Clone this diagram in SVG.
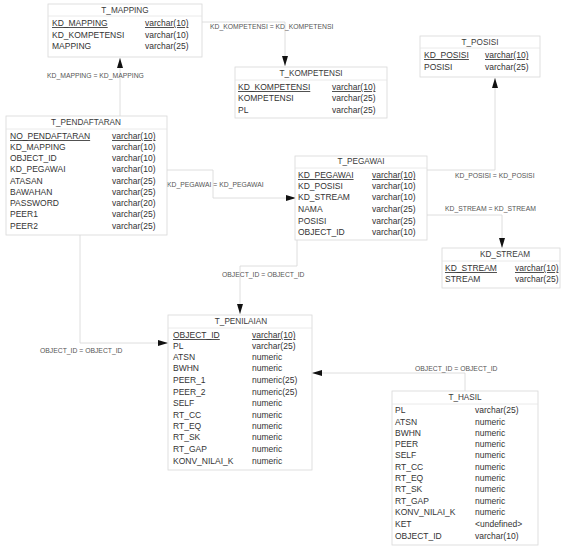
<svg xmlns="http://www.w3.org/2000/svg" width="566" height="547" viewBox="0 0 566 547">
<style>
text{font-family:"Liberation Sans",Arial,sans-serif;}
.box{fill:#fff;stroke:#d8d8d8;stroke-width:0.8;}
.sep{stroke:#e4e4e4;stroke-width:0.8;}
.t{font-size:8.2px;fill:#3a3a3a;text-anchor:middle;}
.f{font-size:8.5px;fill:#333;}
.pk{text-decoration:underline;}
.lbl{font-size:6.8px;fill:#555;}
.c{fill:none;stroke:#d6d6d6;stroke-width:0.8;}
</style>
<defs>
<marker id="ah" viewBox="0 0 10 6" refX="10" refY="3" markerWidth="10" markerHeight="6" markerUnits="userSpaceOnUse" orient="auto">
<path d="M0,0 L10,3 L0,6 Z" fill="#111"/>
</marker>
</defs>
<rect width="566" height="547" fill="#fff"/>

<g id="connectors">
<path class="c" d="M202,22 H285 V66" marker-end="url(#ah)"/>
<path class="c" d="M120,116 V58" marker-end="url(#ah)"/>
<path class="c" d="M167,170 H213 V198 H296" marker-end="url(#ah)"/>
<path class="c" d="M427,170 H495 V78" marker-end="url(#ah)"/>
<path class="c" d="M427,215 H502 V248" marker-end="url(#ah)"/>
<path class="c" d="M297,240 V266 H240 V314" marker-end="url(#ah)"/>
<path class="c" d="M80,235 V343 H168" marker-end="url(#ah)"/>
<path class="c" d="M465,391 V373 H312" marker-end="url(#ah)"/>
<text class="lbl" x="210" y="29">KD_KOMPETENSI = KD_KOMPETENSI</text>
<text class="lbl" x="47" y="78">KD_MAPPING = KD_MAPPING</text>
<text class="lbl" x="167" y="187">KD_PEGAWAI = KD_PEGAWAI</text>
<text class="lbl" x="455" y="178">KD_POSISI = KD_POSISI</text>
<text class="lbl" x="445" y="211">KD_STREAM = KD_STREAM</text>
<text class="lbl" x="222" y="277">OBJECT_ID = OBJECT_ID</text>
<text class="lbl" x="40" y="353">OBJECT_ID = OBJECT_ID</text>
<text class="lbl" x="415" y="371">OBJECT_ID = OBJECT_ID</text>
</g>

<g id="T_MAPPING">
<rect class="box" x="48" y="4" width="154" height="53"/>
<line class="sep" x1="48" y1="16" x2="202" y2="16"/>
<text class="t" x="125" y="13">T_MAPPING</text>
<text class="f pk" x="52" y="26">KD_MAPPING</text><text class="f pk" x="145" y="26">varchar(10)</text>
<text class="f" x="52" y="38">KD_KOMPETENSI</text><text class="f" x="145" y="38">varchar(10)</text>
<text class="f" x="52" y="49">MAPPING</text><text class="f" x="145" y="49">varchar(25)</text>
</g>

<g id="T_KOMPETENSI">
<rect class="box" x="235" y="67" width="152" height="51"/>
<line class="sep" x1="235" y1="80" x2="387" y2="80"/>
<text class="t" x="311" y="76">T_KOMPETENSI</text>
<text class="f pk" x="238" y="90">KD_KOMPETENSI</text><text class="f pk" x="332" y="90">varchar(10)</text>
<text class="f" x="238" y="101">KOMPETENSI</text><text class="f" x="332" y="101">varchar(25)</text>
<text class="f" x="238" y="113">PL</text><text class="f" x="332" y="113">varchar(25)</text>
</g>

<g id="T_POSISI">
<rect class="box" x="420" y="36" width="120" height="41"/>
<line class="sep" x1="420" y1="48" x2="540" y2="48"/>
<text class="t" x="480" y="45">T_POSISI</text>
<text class="f pk" x="424" y="58">KD_POSISI</text><text class="f pk" x="485" y="58">varchar(10)</text>
<text class="f" x="424" y="70">POSISI</text><text class="f" x="485" y="70">varchar(25)</text>
</g>

<g id="T_PENDAFTARAN">
<rect class="box" x="6" y="116" width="161" height="119"/>
<line class="sep" x1="6" y1="129" x2="167" y2="129"/>
<text class="t" x="86" y="125">T_PENDAFTARAN</text>
<text class="f pk" x="10" y="139">NO_PENDAFTARAN</text><text class="f pk" x="112" y="139">varchar(10)</text>
<text class="f" x="10" y="150">KD_MAPPING</text><text class="f" x="112" y="150">varchar(10)</text>
<text class="f" x="10" y="161">OBJECT_ID</text><text class="f" x="112" y="161">varchar(10)</text>
<text class="f" x="10" y="172">KD_PEGAWAI</text><text class="f" x="112" y="172">varchar(10)</text>
<text class="f" x="10" y="184">ATASAN</text><text class="f" x="112" y="184">varchar(25)</text>
<text class="f" x="10" y="195">BAWAHAN</text><text class="f" x="112" y="195">varchar(25)</text>
<text class="f" x="10" y="206">PASSWORD</text><text class="f" x="112" y="206">varchar(20)</text>
<text class="f" x="10" y="217">PEER1</text><text class="f" x="112" y="217">varchar(25)</text>
<text class="f" x="10" y="229">PEER2</text><text class="f" x="112" y="229">varchar(25)</text>
</g>

<g id="T_PEGAWAI">
<rect class="box" x="295" y="156" width="132" height="84"/>
<line class="sep" x1="295" y1="168" x2="427" y2="168"/>
<text class="t" x="361" y="164">T_PEGAWAI</text>
<text class="f pk" x="298" y="178">KD_PEGAWAI</text><text class="f pk" x="372" y="178">varchar(10)</text>
<text class="f" x="298" y="189">KD_POSISI</text><text class="f" x="372" y="189">varchar(10)</text>
<text class="f" x="298" y="200">KD_STREAM</text><text class="f" x="372" y="200">varchar(10)</text>
<text class="f" x="298" y="212">NAMA</text><text class="f" x="372" y="212">varchar(25)</text>
<text class="f" x="298" y="224">POSISI</text><text class="f" x="372" y="224">varchar(25)</text>
<text class="f" x="298" y="235">OBJECT_ID</text><text class="f" x="372" y="235">varchar(10)</text>
</g>

<g id="KD_STREAM">
<rect class="box" x="442" y="248" width="118" height="40"/>
<line class="sep" x1="442" y1="261" x2="560" y2="261"/>
<text class="t" x="505" y="257">KD_STREAM</text>
<text class="f pk" x="445" y="271">KD_STREAM</text><text class="f pk" x="515" y="271">varchar(10)</text>
<text class="f" x="445" y="282">STREAM</text><text class="f" x="515" y="282">varchar(25)</text>
</g>

<g id="T_PENILAIAN">
<rect class="box" x="168" y="315" width="144" height="155"/>
<line class="sep" x1="168" y1="328" x2="312" y2="328"/>
<text class="t" x="241" y="324">T_PENILAIAN</text>
<text class="f pk" x="173" y="338">OBJECT_ID</text><text class="f pk" x="252" y="338">varchar(10)</text>
<text class="f" x="173" y="349">PL</text><text class="f" x="252" y="349">varchar(25)</text>
<text class="f" x="173" y="360">ATSN</text><text class="f" x="252" y="360">numeric</text>
<text class="f" x="173" y="371">BWHN</text><text class="f" x="252" y="371">numeric</text>
<text class="f" x="173" y="383">PEER_1</text><text class="f" x="252" y="383">numeric(25)</text>
<text class="f" x="173" y="395">PEER_2</text><text class="f" x="252" y="395">numeric(25)</text>
<text class="f" x="173" y="406">SELF</text><text class="f" x="252" y="406">numeric</text>
<text class="f" x="173" y="418">RT_CC</text><text class="f" x="252" y="418">numeric</text>
<text class="f" x="173" y="429">RT_EQ</text><text class="f" x="252" y="429">numeric</text>
<text class="f" x="173" y="440">RT_SK</text><text class="f" x="252" y="440">numeric</text>
<text class="f" x="173" y="452">RT_GAP</text><text class="f" x="252" y="452">numeric</text>
<text class="f" x="173" y="464">KONV_NILAI_K</text><text class="f" x="252" y="464">numeric</text>
</g>

<g id="T_HASIL">
<rect class="box" x="392" y="391" width="146" height="154"/>
<line class="sep" x1="392" y1="404" x2="538" y2="404"/>
<text class="t" x="465" y="400">T_HASIL</text>
<text class="f" x="395" y="413">PL</text><text class="f" x="475" y="413">varchar(25)</text>
<text class="f" x="395" y="425">ATSN</text><text class="f" x="475" y="425">numeric</text>
<text class="f" x="395" y="436">BWHN</text><text class="f" x="475" y="436">numeric</text>
<text class="f" x="395" y="447">PEER</text><text class="f" x="475" y="447">numeric</text>
<text class="f" x="395" y="458">SELF</text><text class="f" x="475" y="458">numeric</text>
<text class="f" x="395" y="470">RT_CC</text><text class="f" x="475" y="470">numeric</text>
<text class="f" x="395" y="481">RT_EQ</text><text class="f" x="475" y="481">numeric</text>
<text class="f" x="395" y="492">RT_SK</text><text class="f" x="475" y="492">numeric</text>
<text class="f" x="395" y="504">RT_GAP</text><text class="f" x="475" y="504">numeric</text>
<text class="f" x="395" y="515">KONV_NILAI_K</text><text class="f" x="475" y="515">numeric</text>
<text class="f" x="395" y="527">KET</text><text class="f" x="475" y="527">&lt;undefined&gt;</text>
<text class="f" x="395" y="539">OBJECT_ID</text><text class="f" x="475" y="539">varchar(10)</text>
</g>
</svg>
